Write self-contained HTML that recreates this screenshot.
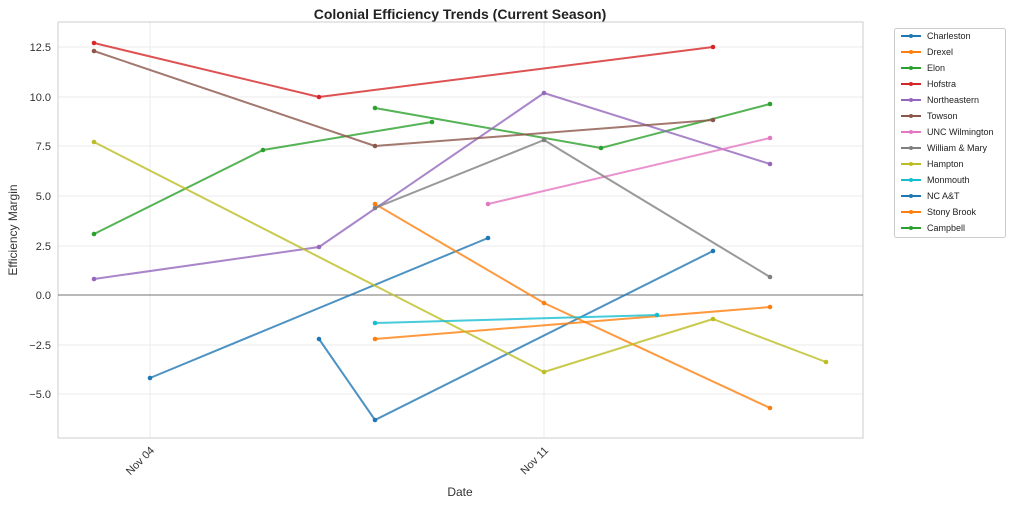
<!DOCTYPE html>
<html><head><meta charset="utf-8"><style>body{margin:0;background:#fff}svg{display:block;font-family:"Liberation Sans","DejaVu Sans",sans-serif}</style></head><body>
<svg width="1024" height="506" viewBox="0 0 1024 506">
<rect width="1024" height="506" fill="#fff"/>
<text x="460" y="19" text-anchor="middle" font-size="14" font-weight="bold" fill="#222">Colonial Efficiency Trends (Current Season)</text>
<g stroke="#ebebeb" stroke-width="1">
<line x1="58" x2="863" y1="47" y2="47"/><line x1="58" x2="863" y1="97" y2="97"/><line x1="58" x2="863" y1="146" y2="146"/><line x1="58" x2="863" y1="196" y2="196"/><line x1="58" x2="863" y1="246" y2="246"/><line x1="58" x2="863" y1="345" y2="345"/><line x1="58" x2="863" y1="394" y2="394"/>
<line x1="150" x2="150" y1="22" y2="438"/><line x1="544" x2="544" y1="22" y2="438"/>
</g>
<rect x="58" y="22" width="805" height="416" fill="none" stroke="#ccc"/>
<line x1="58" x2="863" y1="295" y2="295" stroke="#444" stroke-width="0.8"/>
<g font-size="11" fill="#333" text-anchor="end">
<text x="51" y="51">12.5</text><text x="51" y="101">10.0</text><text x="51" y="150">7.5</text><text x="51" y="200">5.0</text><text x="51" y="250">2.5</text><text x="51" y="299">0.0</text><text x="51" y="349">−2.5</text><text x="51" y="398">−5.0</text>
<text transform="translate(155,451) rotate(-45)">Nov 04</text>
<text transform="translate(549,451) rotate(-45)">Nov 11</text>
</g>
<text x="460" y="496" text-anchor="middle" font-size="12" fill="#333">Date</text>
<text transform="translate(17,230) rotate(-90)" text-anchor="middle" font-size="12" fill="#333">Efficiency Margin</text>
<g fill="none" stroke-width="2" stroke-opacity="0.8" stroke-linejoin="round">
<polyline stroke="#1f77b4" points="150,378 488,238"/>
<polyline stroke="#1f77b4" points="319,339 375,420 713,251"/>
<polyline stroke="#ff7f0e" points="375,339 770,307"/>
<polyline stroke="#ff7f0e" points="375,204 544,303 770,408"/>
<polyline stroke="#2ca02c" points="94,234 263,150 432,122"/>
<polyline stroke="#2ca02c" points="375,108 601,148 770,104"/>
<polyline stroke="#d62728" points="94,43 319,97 713,47"/>
<polyline stroke="#9467bd" points="94,279 319,247 544,93 770,164"/>
<polyline stroke="#8c564b" points="94,51 375,146 713,120"/>
<polyline stroke="#e377c2" points="488,204 770,138"/>
<polyline stroke="#7f7f7f" points="375,208 544,140 770,277"/>
<polyline stroke="#bcbd22" points="94,142 544,372 713,319 826,362"/>
<polyline stroke="#17becf" points="375,323 657,315"/>
</g>
<g>
<g fill="#1f77b4"><circle cx="150" cy="378" r="2.3"/><circle cx="488" cy="238" r="2.3"/><circle cx="319" cy="339" r="2.3"/><circle cx="375" cy="420" r="2.3"/><circle cx="713" cy="251" r="2.3"/></g>
<g fill="#ff7f0e"><circle cx="375" cy="339" r="2.3"/><circle cx="770" cy="307" r="2.3"/><circle cx="375" cy="204" r="2.3"/><circle cx="544" cy="303" r="2.3"/><circle cx="770" cy="408" r="2.3"/></g>
<g fill="#2ca02c"><circle cx="94" cy="234" r="2.3"/><circle cx="263" cy="150" r="2.3"/><circle cx="432" cy="122" r="2.3"/><circle cx="375" cy="108" r="2.3"/><circle cx="601" cy="148" r="2.3"/><circle cx="770" cy="104" r="2.3"/></g>
<g fill="#d62728"><circle cx="94" cy="43" r="2.3"/><circle cx="319" cy="97" r="2.3"/><circle cx="713" cy="47" r="2.3"/></g>
<g fill="#9467bd"><circle cx="94" cy="279" r="2.3"/><circle cx="319" cy="247" r="2.3"/><circle cx="544" cy="93" r="2.3"/><circle cx="770" cy="164" r="2.3"/></g>
<g fill="#8c564b"><circle cx="94" cy="51" r="2.3"/><circle cx="375" cy="146" r="2.3"/><circle cx="713" cy="120" r="2.3"/></g>
<g fill="#e377c2"><circle cx="488" cy="204" r="2.3"/><circle cx="770" cy="138" r="2.3"/></g>
<g fill="#7f7f7f"><circle cx="375" cy="208" r="2.3"/><circle cx="544" cy="140" r="2.3"/><circle cx="770" cy="277" r="2.3"/></g>
<g fill="#bcbd22"><circle cx="94" cy="142" r="2.3"/><circle cx="544" cy="372" r="2.3"/><circle cx="713" cy="319" r="2.3"/><circle cx="826" cy="362" r="2.3"/></g>
<g fill="#17becf"><circle cx="375" cy="323" r="2.3"/><circle cx="657" cy="315" r="2.3"/></g>
</g>
<rect x="894.5" y="28.5" width="111" height="209" fill="#fff" stroke="#ccc" rx="2"/>
<g font-size="9" fill="#222" stroke-width="2">
<g transform="translate(0,36)"><line x1="901" x2="921" stroke="#1f77b4"/><circle cx="911" r="2" fill="#1f77b4"/><text x="927" y="3">Charleston</text></g>
<g transform="translate(0,52)"><line x1="901" x2="921" stroke="#ff7f0e"/><circle cx="911" r="2" fill="#ff7f0e"/><text x="927" y="3">Drexel</text></g>
<g transform="translate(0,68)"><line x1="901" x2="921" stroke="#2ca02c"/><circle cx="911" r="2" fill="#2ca02c"/><text x="927" y="3">Elon</text></g>
<g transform="translate(0,84)"><line x1="901" x2="921" stroke="#d62728"/><circle cx="911" r="2" fill="#d62728"/><text x="927" y="3">Hofstra</text></g>
<g transform="translate(0,100)"><line x1="901" x2="921" stroke="#9467bd"/><circle cx="911" r="2" fill="#9467bd"/><text x="927" y="3">Northeastern</text></g>
<g transform="translate(0,116)"><line x1="901" x2="921" stroke="#8c564b"/><circle cx="911" r="2" fill="#8c564b"/><text x="927" y="3">Towson</text></g>
<g transform="translate(0,132)"><line x1="901" x2="921" stroke="#e377c2"/><circle cx="911" r="2" fill="#e377c2"/><text x="927" y="3">UNC Wilmington</text></g>
<g transform="translate(0,148)"><line x1="901" x2="921" stroke="#7f7f7f"/><circle cx="911" r="2" fill="#7f7f7f"/><text x="927" y="3">William &amp; Mary</text></g>
<g transform="translate(0,164)"><line x1="901" x2="921" stroke="#bcbd22"/><circle cx="911" r="2" fill="#bcbd22"/><text x="927" y="3">Hampton</text></g>
<g transform="translate(0,180)"><line x1="901" x2="921" stroke="#17becf"/><circle cx="911" r="2" fill="#17becf"/><text x="927" y="3">Monmouth</text></g>
<g transform="translate(0,196)"><line x1="901" x2="921" stroke="#1f77b4"/><circle cx="911" r="2" fill="#1f77b4"/><text x="927" y="3">NC A&amp;T</text></g>
<g transform="translate(0,212)"><line x1="901" x2="921" stroke="#ff7f0e"/><circle cx="911" r="2" fill="#ff7f0e"/><text x="927" y="3">Stony Brook</text></g>
<g transform="translate(0,228)"><line x1="901" x2="921" stroke="#2ca02c"/><circle cx="911" r="2" fill="#2ca02c"/><text x="927" y="3">Campbell</text></g>
</g>
</svg>
</body></html>
